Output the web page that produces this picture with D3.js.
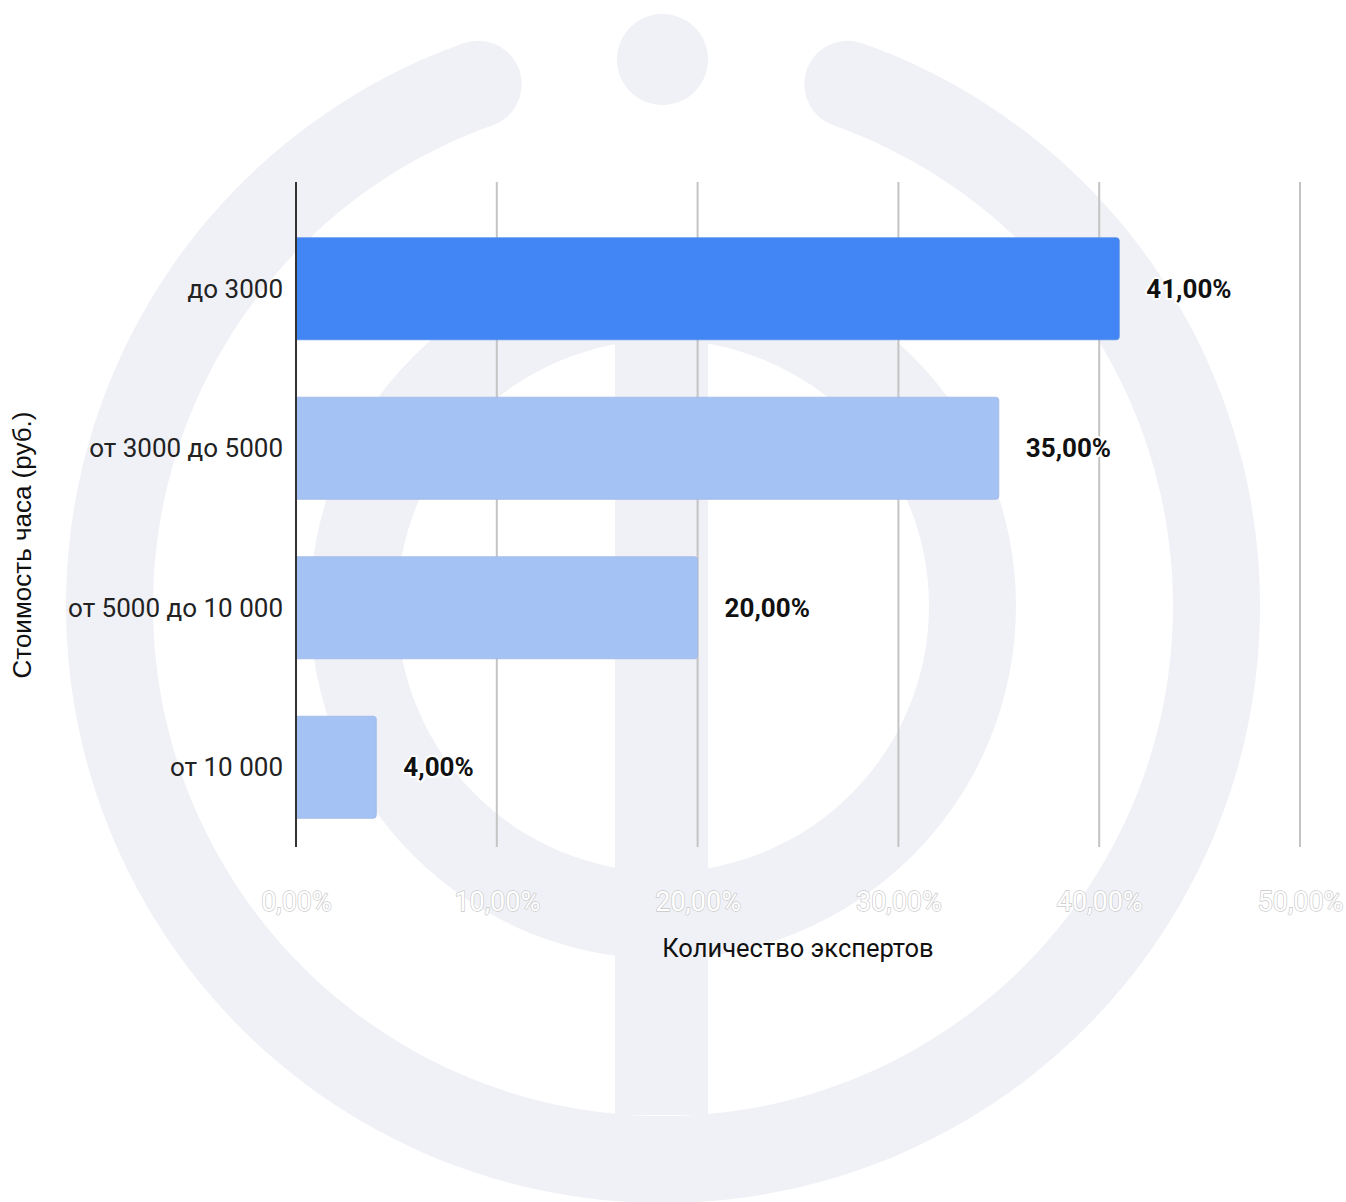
<!DOCTYPE html>
<html>
<head>
<meta charset="utf-8">
<script src="https://cdn.jsdelivr.net/npm/d3@7"></script>
<style>
  html, body { margin: 0; padding: 0; background: #ffffff; }
  svg { display: block; }
</style>
</head>
<body>
<svg id="chart" width="1346" height="1202"></svg>
<script>
const categories = ["до 3000", "от 3000 до 5000", "от 5000 до 10 000", "от 10 000"];
const values = [41, 35, 20, 4];
const valueLabels = ["41,00%", "35,00%", "20,00%", "4,00%"];
const tickValues = [0, 10, 20, 30, 40, 50];
const tickLabels = ["0,00%", "10,00%", "20,00%", "30,00%", "40,00%", "50,00%"];
const xTitle = "Количество экспертов";
const yTitle = "Стоимость часа (руб.)";

const svg = d3.select("#chart");
const FONT = "Roboto, 'Liberation Sans', Arial, sans-serif";

// Watermark logo
const wm = svg.append("g").attr("fill", "#f0f1f6");
const cx = 663, cy = 606;
const outerArc = d3.arc()
  .innerRadius(510).outerRadius(597)
  .startAngle(15 * Math.PI / 180).endAngle((360 - 15) * Math.PI / 180)
  .cornerRadius(43.5);
wm.append("path").attr("transform", `translate(${cx},${cy})`).attr("d", outerArc());
const innerArc = d3.arc().innerRadius(266).outerRadius(353).startAngle(0).endAngle(2 * Math.PI);
wm.append("path").attr("transform", `translate(${cx},${cy})`).attr("d", innerArc());
wm.append("rect").attr("x", 615).attr("y", 300).attr("width", 93).attr("height", 815);
wm.append("circle").attr("cx", 662.5).attr("cy", 59.5).attr("r", 45.5);

// Scales
const x = d3.scaleLinear().domain([0, 50]).range([296, 1300]);
const y = d3.scaleBand().domain(categories).range([209, 847]).paddingInner(0.36).paddingOuter(0.18);
const gridTop = 182, gridBottom = 847;

// Gridlines
svg.append("g").selectAll("line").data(tickValues.slice(1)).join("line")
  .attr("x1", d => x(d)).attr("x2", d => x(d))
  .attr("y1", gridTop).attr("y2", gridBottom)
  .attr("stroke", "#c4c4c4").attr("stroke-width", 2);

// Bars
const barPath = (x0, y0, w, h, r) =>
  `M${x0},${y0}H${x0 + w - r}Q${x0 + w},${y0} ${x0 + w},${y0 + r}V${y0 + h - r}Q${x0 + w},${y0 + h} ${x0 + w - r},${y0 + h}H${x0}Z`;
svg.append("g").selectAll("path").data(categories).join("path")
  .attr("d", (c, i) => barPath(x(0), y(c), x(values[i]) - x(0), y.bandwidth(), 3))
  .attr("fill", (c, i) => i === 0 ? "#4285f4" : "#a4c2f4")
  .attr("stroke", (c, i) => i === 0 ? "#5a8ee8" : "#a0b8e6")
  .attr("stroke-width", 0.8);

// Y axis line
svg.append("line").attr("x1", x(0)).attr("x2", x(0)).attr("y1", gridTop).attr("y2", gridBottom)
  .attr("stroke", "#333333").attr("stroke-width", 2);

// Category labels
const yAxis = d3.axisLeft(y).tickSize(0).tickPadding(13);
const yg = svg.append("g").attr("transform", `translate(${x(0)},0)`).call(yAxis);
yg.select(".domain").remove();
yg.selectAll("text")
  .attr("font-family", FONT)
  .attr("font-size", 26).attr("fill", "#222222").attr("dy", "0.35em");

// X tick labels (white with gray outline)
const xAxis = d3.axisBottom(x).tickValues(tickValues).tickSize(0).tickPadding(0)
  .tickFormat((d, i) => tickLabels[i]);
const xg = svg.append("g").attr("transform", `translate(0,${gridBottom})`).call(xAxis);
xg.select(".domain").remove();
xg.selectAll("text")
  .attr("y", 64).attr("dy", 0)
  .attr("font-family", FONT)
  .attr("font-size", 27)
  .attr("fill", "#ffffff").attr("stroke", "#c8c8c8").attr("stroke-width", 1.3)
  .attr("paint-order", "stroke");

// Value labels
svg.append("g").selectAll("text").data(categories).join("text")
  .attr("x", (c, i) => x(values[i]) + 27)
  .attr("y", c => y(c) + y.bandwidth() / 2)
  .attr("dy", "0.35em")
  .attr("font-family", FONT)
  .attr("font-weight", "bold").attr("font-size", 26)
  .attr("fill", "#111111").attr("stroke", "#ffffff").attr("stroke-width", 4)
  .attr("stroke-linejoin", "round").attr("paint-order", "stroke")
  .text((c, i) => valueLabels[i]);

// Axis titles
svg.append("text").attr("x", (x(0) + x(50)) / 2).attr("y", 957)
  .attr("text-anchor", "middle")
  .attr("font-family", FONT)
  .attr("font-size", 25.5).attr("fill", "#111111").text(xTitle);

svg.append("text").attr("transform", `translate(31,545) rotate(-90)`)
  .attr("text-anchor", "middle")
  .attr("font-family", "'Liberation Sans', Arial, sans-serif")
  .attr("font-size", 26).attr("fill", "#111111").text(yTitle);
</script>
</body>
</html>
